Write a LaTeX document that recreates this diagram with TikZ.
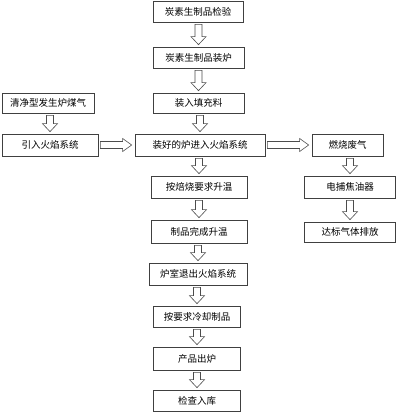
\documentclass[tikz,border=0pt]{standalone}
\usepackage{fontspec}
\newfontfamily\cjk{Noto Sans CJK SC}
\usetikzlibrary{calc}
\tikzset{
  box/.style={draw=black!75, line width=0.7pt, minimum height=21pt, inner sep=1pt, font=\cjk\fontsize{9.5}{11}\selectfont},
  blockarr/.style={draw=black!70, line width=0.6pt, fill=white, line join=miter}
}
\newcommand\varr[2]{\draw[blockarr] let \p1=(#1.south), \p2=(#2.north) in
  (\x2-3.5pt,\y1-2pt) -- (\x2+3.5pt,\y1-2pt) -- (\x2+3.5pt,\y2+10pt) -- (\x2+7.5pt,\y2+10pt) -- (\x2,\y2+2pt) -- (\x2-7.5pt,\y2+10pt) -- (\x2-3.5pt,\y2+10pt) -- cycle;}
\newcommand\harr[2]{\draw[blockarr] let \p1=(#1.east), \p2=(#2.west) in
  (\x1+2pt,\y1-3.5pt) -- (\x1+2pt,\y1+3.5pt) -- (\x2-12pt,\y1+3.5pt) -- (\x2-12pt,\y1+6.5pt) -- (\x2-3pt,\y1) -- (\x2-12pt,\y1-6.5pt) -- (\x2-12pt,\y1-3.5pt) -- cycle;}
\begin{document}
\begin{tikzpicture}[x=1pt,y=-1pt]
\useasboundingbox (0,0) rectangle (400,412);
\node[box, minimum width=90pt] (b1) at (198,11.5) {炭素生制品检验};
\node[box, minimum width=91pt] (b2) at (198.5,57.5) {炭素生制品装炉};
\node[box, minimum width=91pt, minimum height=20pt] (b3) at (198.5,103) {装入填充料};
\node[box, minimum width=92pt, minimum height=20pt] (l1) at (48,103) {清净型发生炉煤气};
\node[box, minimum width=96pt, minimum height=22pt] (l2) at (50,145) {引入火焰系统};
\node[box, minimum width=130pt, minimum height=22pt] (m4) at (200,145) {装好的炉进入火焰系统};
\node[box, minimum width=71pt, minimum height=22pt] (r1) at (347.5,145) {燃烧废气};
\node[box, minimum width=96pt, minimum height=22pt] (m5) at (199,187) {按焙烧要求升温};
\node[box, minimum width=91pt, minimum height=22pt] (r2) at (350,187) {电捕焦油器};
\node[box, minimum width=96pt, minimum height=23pt] (m6) at (199,231.5) {制品完成升温};
\node[box, minimum width=91pt, minimum height=20pt] (r3) at (350,232) {达标气体排放};
\node[box, minimum width=98pt, minimum height=22pt] (m7) at (198,274) {炉室退出火焰系统};
\node[box, minimum width=87pt] (m8) at (197,316.5) {按要求冷却制品};
\node[box, minimum width=87pt, minimum height=23pt] (m9) at (197,358.5) {产品出炉};
\node[box, minimum width=87pt] (m10) at (197,400.5) {检查入库};
\varr{b1}{b2}
\varr{b2}{b3}
\varr{b3}{m4}
\varr{l1}{l2}
\varr{m4}{m5}
\varr{m5}{m6}
\varr{m6}{m7}
\varr{m7}{m8}
\varr{m8}{m9}
\varr{m9}{m10}
\varr{r1}{r2}
\varr{r2}{r3}
\harr{l2}{m4}
\harr{m4}{r1}
\end{tikzpicture}
\end{document}
